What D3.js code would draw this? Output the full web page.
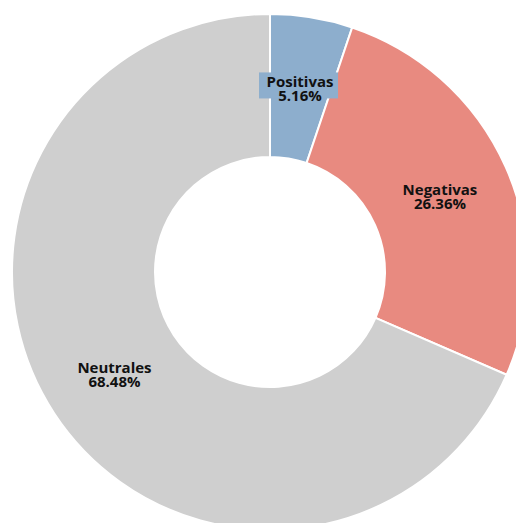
<!DOCTYPE html>
<html><head><meta charset="utf-8">
<script src="https://cdn.jsdelivr.net/npm/d3@7"></script>
<style>body{margin:0;background:#fff}svg{display:block}</style>
</head><body>
<svg id="c" width="516" height="523"></svg>
<script>
const categories = ["Positivas", "Negativas", "Neutrales"];
const values = [5.16, 26.36, 68.48];
const labels = ["5.16%", "26.36%", "68.48%"];
const colors = ["#8daecd", "#e88a80", "#cfcfcf"];

const svg = d3.select("#c");
const cx = 270, cy = 272, R = 258, r = 115;
const g = svg.append("g").attr("transform", `translate(${cx},${cy})`);
const data = categories.map((c, i) => ({cat: c, value: values[i], label: labels[i], color: colors[i]}));
const pie = d3.pie().value(d => d.value).sort(null);
const arc = d3.arc().innerRadius(r).outerRadius(R);
const labelArc = d3.arc().innerRadius(186).outerRadius(186);
const arcs = pie(data);

g.selectAll("path").data(arcs).join("path")
  .attr("d", arc).attr("fill", d => d.data.color)
  .attr("stroke", "#fff").attr("stroke-width", 2);

const lg = g.selectAll("g.lab").data(arcs).join("g").attr("class", "lab")
  .attr("transform", d => `translate(${labelArc.centroid(d)})`);
lg.each(function(d, i) {
  const sel = d3.select(this);
  if (i === 0) {
    sel.append("rect").attr("x", -41).attr("y", -16).attr("width", 79).attr("height", 26)
      .attr("fill", d.data.color);
  }
  const t = sel.append("text").attr("text-anchor", "middle")
    .attr("font-family", "'Open Sans', sans-serif").attr("font-weight", "bold")
    .attr("font-size", 15).attr("fill", "#111");
  t.append("tspan").attr("x", 0).attr("y", -1.5).text(d.data.cat);
  t.append("tspan").attr("x", 0).attr("y", 12.5).text(d.data.label);
});
</script>
</body></html>
